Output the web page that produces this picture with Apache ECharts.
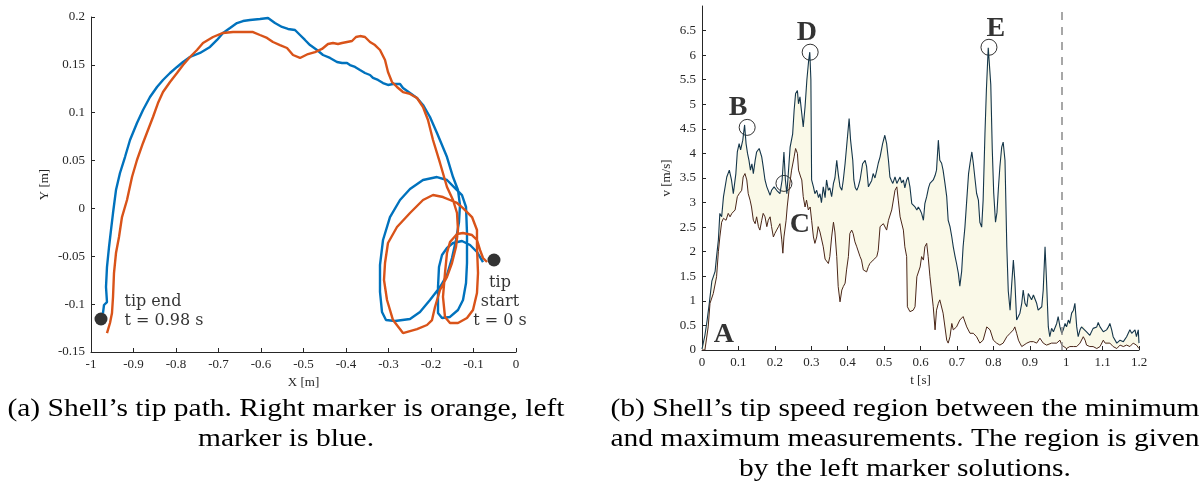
<!DOCTYPE html>
<html>
<head>
<meta charset="utf-8">
<title>Shell tip path and speed</title>
<script src="https://cdn.jsdelivr.net/npm/echarts@6.0.0/dist/echarts.min.js"></script>
<style>
  body { margin: 0; background: #fff; }
  #chart { width: 1200px; height: 484px; }
</style>
</head>
<body>
<div id="chart"></div>
<script>
// (a) tip path, [X m, Y m], from tip start to tip end
const pathBlue = [
  [-0.0776,-0.0560],[-0.0918,-0.0455],[-0.1082,-0.0382],[-0.1271,-0.0340],[-0.1482,-0.0361],
  [-0.1624,-0.0413],[-0.1741,-0.0487],[-0.1812,-0.0612],[-0.1835,-0.0821],[-0.1835,-0.1093],
  [-0.1741,-0.1145],[-0.1553,-0.1134],[-0.1365,-0.1061],[-0.1247,-0.0957],[-0.1176,-0.0779],
  [-0.1153,-0.0570],[-0.1153,-0.0257],[-0.1176,0.0015],[-0.1271,0.0140],[-0.1482,0.0234],
  [-0.1624,0.0297],[-0.1859,0.0328],[-0.2188,0.0297],[-0.2494,0.0203],[-0.2729,0.0088],
  [-0.2965,-0.0090],[-0.3129,-0.0330],[-0.3200,-0.0591],[-0.3200,-0.0873],[-0.3153,-0.1082],
  [-0.3059,-0.1166],[-0.2847,-0.1176],[-0.2494,-0.1155],[-0.2259,-0.1082],[-0.2024,-0.0957],
  [-0.1788,-0.0821],[-0.1624,-0.0696],[-0.1506,-0.0518],[-0.1412,-0.0330],[-0.1341,-0.0142],
  [-0.1318,0.0036],[-0.1365,0.0192],[-0.1482,0.0328],[-0.1624,0.0537],[-0.1859,0.0788],
  [-0.2024,0.0955],[-0.2188,0.1081],[-0.2329,0.1154],[-0.2494,0.1206],[-0.2659,0.1258],
  [-0.2729,0.1300],[-0.2894,0.1300],[-0.3012,0.1290],[-0.3129,0.1310],[-0.3247,0.1342],
  [-0.3365,0.1363],[-0.3435,0.1394],[-0.3553,0.1415],[-0.3671,0.1446],[-0.3788,0.1478],
  [-0.3906,0.1498],[-0.3976,0.1519],[-0.4094,0.1519],[-0.4212,0.1530],[-0.4376,0.1572],
  [-0.4541,0.1603],[-0.4682,0.1655],[-0.4847,0.1707],[-0.4965,0.1760],[-0.5082,0.1812],
  [-0.5200,0.1864],[-0.5365,0.1875],[-0.5506,0.1896],[-0.5671,0.1937],[-0.5835,0.1990],
  [-0.6024,0.1979],[-0.6259,0.1969],[-0.6424,0.1958],[-0.6565,0.1937],[-0.6729,0.1885],
  [-0.6894,0.1833],[-0.7035,0.1760],[-0.7200,0.1687],[-0.7435,0.1624],[-0.7671,0.1582],
  [-0.7835,0.1530],[-0.7976,0.1478],[-0.8141,0.1415],[-0.8306,0.1342],[-0.8447,0.1269],
  [-0.8612,0.1164],[-0.8776,0.1028],[-0.8918,0.0893],[-0.9082,0.0715],[-0.9200,0.0537],
  [-0.9318,0.0370],[-0.9412,0.0192],[-0.9482,-0.0048],[-0.9529,-0.0225],[-0.9576,-0.0403],
  [-0.9624,-0.0612],[-0.9647,-0.0821],[-0.9624,-0.0978],[-0.9694,-0.1009],[-0.9718,-0.1093]
];
const pathOrange = [
  [-0.0682,-0.0560],[-0.0776,-0.0518],[-0.0847,-0.0434],[-0.0918,-0.0330],[-0.1035,-0.0278],
  [-0.1247,-0.0257],[-0.1388,-0.0267],[-0.1553,-0.0351],[-0.1624,-0.0466],[-0.1671,-0.0675],
  [-0.1718,-0.0925],[-0.1671,-0.1134],[-0.1553,-0.1197],[-0.1365,-0.1197],[-0.1153,-0.1145],
  [-0.1012,-0.1061],[-0.0918,-0.0884],[-0.0894,-0.0675],[-0.0918,-0.0403],[-0.0918,-0.0225],
  [-0.1035,-0.0090],[-0.1247,0.0004],[-0.1388,0.0057],[-0.1553,0.0088],[-0.1718,0.0119],
  [-0.1953,0.0140],[-0.2188,0.0088],[-0.2494,-0.0048],[-0.2800,-0.0194],[-0.3012,-0.0361],
  [-0.3082,-0.0570],[-0.3106,-0.0748],[-0.3035,-0.0957],[-0.2894,-0.1166],[-0.2659,-0.1302],
  [-0.2329,-0.1260],[-0.2094,-0.1218],[-0.1976,-0.1166],[-0.1906,-0.1030],[-0.1788,-0.0852],
  [-0.1624,-0.0716],[-0.1506,-0.0570],[-0.1412,-0.0403],[-0.1365,-0.0225],[-0.1388,-0.0048],
  [-0.1482,0.0088],[-0.1624,0.0224],[-0.1788,0.0475],[-0.1953,0.0715],[-0.2071,0.0924],
  [-0.2188,0.1060],[-0.2329,0.1154],[-0.2494,0.1196],[-0.2659,0.1216],[-0.2800,0.1269],
  [-0.2918,0.1321],[-0.3012,0.1425],[-0.3082,0.1551],[-0.3200,0.1655],[-0.3318,0.1707],
  [-0.3435,0.1739],[-0.3553,0.1791],[-0.3671,0.1801],[-0.3765,0.1791],[-0.3859,0.1749],
  [-0.3976,0.1739],[-0.4094,0.1728],[-0.4188,0.1718],[-0.4306,0.1728],[-0.4424,0.1718],
  [-0.4565,0.1666],[-0.4729,0.1634],[-0.4894,0.1613],[-0.5082,0.1572],[-0.5247,0.1603],
  [-0.5388,0.1676],[-0.5553,0.1707],[-0.5718,0.1739],[-0.5859,0.1781],[-0.6024,0.1812],
  [-0.6188,0.1843],[-0.6424,0.1843],[-0.6659,0.1843],[-0.6894,0.1833],[-0.7129,0.1791],
  [-0.7365,0.1728],[-0.7506,0.1655],[-0.7671,0.1582],[-0.7835,0.1498],[-0.7976,0.1415],
  [-0.8141,0.1321],[-0.8306,0.1216],[-0.8424,0.1101],[-0.8541,0.0955],[-0.8659,0.0819],
  [-0.8776,0.0684],[-0.8918,0.0506],[-0.9035,0.0328],[-0.9153,0.0088],[-0.9271,-0.0090],
  [-0.9341,-0.0299],[-0.9412,-0.0466],[-0.9459,-0.0675],[-0.9482,-0.0925],[-0.9506,-0.1093],
  [-0.9553,-0.1197],[-0.9624,-0.1302]
];
const tipStart = [-0.0518, -0.0539];
const tipEnd = [-0.9765, -0.1155];

// (b) tip speed, [t s, v m/s]
const speedMax = [
  [0,0.02],[0.008,0.3],[0.014,0.6],[0.020,0.95],[0.027,1.4],[0.036,1.6],[0.040,1.9],[0.045,2.24],
  [0.049,2.78],[0.054,2.71],[0.059,3.12],[0.068,3.52],[0.075,3.66],[0.081,3.46],[0.086,3.18],
  [0.093,3.59],[0.097,4.03],[0.102,4.20],[0.106,4.07],[0.112,4.27],[0.117,4.58],[0.121,4.2],
  [0.125,4.0],[0.129,3.86],[0.133,3.66],[0.137,3.79],[0.141,3.59],[0.146,3.86],[0.150,4.03],
  [0.157,4.10],[0.164,3.93],[0.168,3.73],[0.173,3.46],[0.178,3.32],[0.187,3.15],[0.191,3.25],
  [0.198,3.32],[0.205,3.25],[0.214,3.18],[0.220,3.46],[0.225,4.03],[0.229,3.46],[0.233,3.18],
  [0.237,3.59],[0.242,4.13],[0.249,4.40],[0.253,4.88],[0.257,5.22],[0.262,5.28],[0.265,5.01],
  [0.269,5.15],[0.274,4.81],[0.278,4.54],[0.283,4.95],[0.288,5.5],[0.293,5.9],[0.296,6.06],
  [0.299,5.5],[0.301,3.46],[0.306,3.32],[0.310,3.18],[0.315,3.25],[0.320,3.1],[0.324,3.18],
  [0.328,3.0],[0.333,3.32],[0.338,3.1],[0.342,3.46],[0.347,3.25],[0.351,3.3],[0.356,3.12],
  [0.361,3.39],[0.365,3.5],[0.370,3.86],[0.374,3.59],[0.379,3.32],[0.384,3.25],[0.388,3.46],
  [0.393,3.8],[0.397,4.13],[0.404,4.71],[0.408,4.27],[0.414,3.86],[0.417,3.46],[0.421,3.3],
  [0.425,3.25],[0.429,3.32],[0.434,3.46],[0.441,3.79],[0.448,3.86],[0.452,3.73],[0.457,3.32],
  [0.461,3.32],[0.466,3.45],[0.470,3.59],[0.475,3.5],[0.480,3.66],[0.484,3.8],[0.489,3.93],
  [0.496,4.20],[0.502,4.37],[0.507,4.20],[0.512,3.86],[0.516,3.52],[0.520,3.45],[0.524,3.39],
  [0.530,3.52],[0.535,3.39],[0.539,3.45],[0.544,3.52],[0.548,3.40],[0.553,3.46],[0.557,3.3],
  [0.562,3.46],[0.566,3.52],[0.571,3.32],[0.576,2.98],[0.580,2.95],[0.585,2.91],[0.590,2.85],
  [0.594,2.91],[0.599,2.85],[0.603,2.78],[0.608,2.64],[0.612,2.98],[0.617,3.12],[0.622,3.3],
  [0.626,3.39],[0.631,3.4],[0.635,3.46],[0.640,3.55],[0.644,3.66],[0.649,4.27],[0.653,3.86],
  [0.658,3.8],[0.662,3.66],[0.667,3.4],[0.672,3.12],[0.676,2.64],[0.681,2.51],[0.686,2.3],
  [0.690,2.10],[0.695,1.9],[0.699,1.76],[0.704,1.56],[0.708,1.3],[0.713,1.6],[0.717,2.1],
  [0.722,2.5],[0.727,3.05],[0.732,3.59],[0.736,3.8],[0.741,4.03],[0.745,3.8],[0.750,3.46],
  [0.754,3.19],[0.759,3.05],[0.763,2.6],[0.768,2.5],[0.772,3.05],[0.777,4.4],[0.781,5.3],
  [0.786,6.15],[0.790,6.15],[0.793,5.4],[0.797,4.1],[0.801,3.2],[0.806,2.6],[0.810,2.8],
  [0.814,3.3],[0.818,3.73],[0.823,4.13],[0.827,4.23],[0.832,3.86],[0.837,2.1],[0.841,1.2],
  [0.846,0.81],[0.850,1.29],[0.855,1.83],[0.859,1.42],[0.864,0.61],[0.869,0.58],[0.873,0.75],
  [0.878,0.95],[0.882,1.22],[0.887,0.95],[0.892,0.88],[0.896,1.15],[0.901,1.08],[0.905,1.02],
  [0.910,1.12],[0.914,1.12],[0.919,0.95],[0.923,0.81],[0.928,0.85],[0.933,0.88],[0.937,1.22],
  [0.942,2.10],[0.946,1.42],[0.951,0.47],[0.955,0.27],[0.960,0.44],[0.965,0.37],[0.974,0.54],
  [0.978,0.68],[0.983,0.47],[0.988,0.34],[0.992,0.41],[0.997,0.54],[1.001,0.47],[1.006,0.61],
  [1.010,0.54],[1.015,0.75],[1.020,0.81],[1.024,0.95],[1.029,0.47],[1.033,0.27],[1.038,0.41],
  [1.042,0.47],[1.047,0.51],[1.056,0.37],[1.065,0.30],[1.074,0.44],[1.084,0.47],[1.088,0.56],
  [1.093,0.47],[1.102,0.37],[1.111,0.41],[1.116,0.47],[1.120,0.54],[1.125,0.41],[1.129,0.27],
  [1.139,0.14],[1.148,0.20],[1.157,0.17],[1.166,0.27],[1.175,0.41],[1.180,0.34],[1.184,0.30],
  [1.189,0.41],[1.193,0.27],[1.198,0.41],[1.200,0.14]
];
const speedMin = [
  [0,0],[0.008,0],[0.017,0.47],[0.022,0.95],[0.031,1.15],[0.040,1.49],[0.045,2.0],[0.049,2.3],
  [0.054,2.6],[0.059,2.68],[0.063,2.71],[0.066,2.64],[0.072,2.78],[0.077,2.71],[0.082,2.78],
  [0.086,2.81],[0.091,2.85],[0.097,3.12],[0.102,3.18],[0.109,3.25],[0.113,3.52],[0.118,3.59],
  [0.123,3.46],[0.127,3.18],[0.132,3.05],[0.136,2.91],[0.141,2.64],[0.146,2.57],[0.150,2.71],
  [0.155,2.51],[0.159,2.44],[0.164,2.64],[0.168,2.78],[0.173,2.71],[0.178,2.51],[0.182,2.64],
  [0.187,2.71],[0.191,2.51],[0.196,2.30],[0.200,2.37],[0.205,2.44],[0.210,2.51],[0.214,2.57],
  [0.219,2.24],[0.222,1.97],[0.225,2.30],[0.231,2.64],[0.234,2.91],[0.240,3.32],[0.246,3.66],
  [0.253,3.93],[0.257,4.10],[0.262,4.00],[0.265,3.66],[0.271,3.52],[0.274,3.46],[0.278,3.12],
  [0.283,2.91],[0.287,3.05],[0.292,2.85],[0.297,2.91],[0.301,2.64],[0.306,2.30],[0.310,2.17],
  [0.315,2.30],[0.319,2.51],[0.324,2.40],[0.333,2.10],[0.338,1.85],[0.347,1.76],[0.351,1.9],
  [0.356,2.3],[0.361,2.6],[0.365,2.4],[0.370,1.9],[0.374,1.29],[0.379,0.98],[0.384,1.22],
  [0.388,1.29],[0.393,1.36],[0.397,1.63],[0.402,1.9],[0.406,2.37],[0.411,2.44],[0.415,2.37],
  [0.420,2.2],[0.425,2.10],[0.429,2.10],[0.434,1.9],[0.438,1.83],[0.443,1.63],[0.452,1.59],
  [0.457,1.7],[0.461,1.76],[0.470,1.83],[0.480,1.90],[0.484,2.03],[0.489,2.51],[0.498,2.57],
  [0.507,2.44],[0.512,2.64],[0.521,2.85],[0.530,3.25],[0.535,3.32],[0.539,3.05],[0.544,2.71],
  [0.553,2.44],[0.557,2.10],[0.562,1.90],[0.564,0.88],[0.571,0.78],[0.580,0.81],[0.585,0.88],
  [0.590,1.49],[0.599,1.69],[0.603,1.90],[0.608,1.83],[0.612,2.10],[0.617,2.17],[0.621,1.90],
  [0.626,1.49],[0.635,0.88],[0.640,0.41],[0.644,0.81],[0.649,0.95],[0.653,1.02],[0.662,0.75],
  [0.672,0.20],[0.676,0.14],[0.681,0.27],[0.686,0.54],[0.690,0.41],[0.699,0.47],[0.708,0.61],
  [0.717,0.68],[0.727,0.47],[0.736,0.34],[0.745,0.34],[0.754,0.27],[0.763,0.14],[0.772,0.20],
  [0.782,0.47],[0.791,0.41],[0.800,0.20],[0.809,0.14],[0.818,0.10],[0.827,0.14],[0.837,0.27],
  [0.846,0.34],[0.855,0.41],[0.859,0.47],[0.864,0.34],[0.869,0.20],[0.873,0.14],[0.878,0.07],
  [0.882,0.10],[0.892,0.14],[0.901,0.17],[0.905,0.14],[0.910,0.17],[0.919,0.14],[0.928,0.24],
  [0.933,0.27],[0.937,0.14],[0.946,0.10],[0.951,0.07],[0.960,0.14],[0.965,0.17],[0.974,0.14],
  [0.983,0.20],[0.988,0.10],[0.992,0.07],[1.001,0.03],[1.010,0.07],[1.020,0.07],[1.029,0.07],
  [1.038,0.14],[1.047,0.27],[1.052,0.20],[1.056,0.10],[1.065,0.07],[1.074,0.07],[1.084,0.03],
  [1.093,0.07],[1.102,0.20],[1.107,0.14],[1.111,0.10],[1.120,0.14],[1.129,0.07],[1.139,0.03],
  [1.148,0.10],[1.157,0.07],[1.166,0.10],[1.175,0.07],[1.184,0.14],[1.193,0.10],[1.200,0.03]
];
const circled = [[0.124,4.53],[0.225,3.39],[0.297,6.06],[0.788,6.16]];
const letters = ['A', 'B', 'C', 'D', 'E'];
const letterAt = [[0.060,0.30],[0.099,4.92],[0.269,2.54],[0.288,6.46],[0.807,6.54]];
const tMarker = 0.988;
const yTicksB = [0, 0.5, 1, 1.5, 2, 2.5, 3, 3.5, 4, 4.5, 5, 5.5, 6, 6.5];

const SERIF = "'Liberation Serif', 'DejaVu Serif', serif";
const INK = '#262626';

function baseAxis(extra) {
  return Object.assign({
    axisLine: { onZero: false, lineStyle: { color: INK, width: 1 } },
    axisTick: { inside: true, length: 4, lineStyle: { color: INK } },
    axisLabel: { color: INK, fontFamily: SERIF, fontSize: 13, margin: 6,
                 formatter: v => String(+(+v).toFixed(2)) },
    splitLine: { show: false },
    nameLocation: 'middle',
    nameTextStyle: { color: INK, fontFamily: SERIF, fontSize: 13 }
  }, extra);
}

const chart = echarts.init(document.getElementById('chart'));

chart.setOption({
  animation: false,
  backgroundColor: '#fff',
  grid: [
    { left: 91, top: 17, width: 425, height: 335 },
    { left: 702, top: 6, width: 437, height: 344 }
  ],
  xAxis: [
    baseAxis({ gridIndex: 0, type: 'value', min: -1, max: 0, interval: 0.1,
               name: 'X [m]', nameGap: 22 }),
    baseAxis({ gridIndex: 1, type: 'value', min: 0, max: 1.2, interval: 0.1,
               name: 't [s]', nameGap: 24 })
  ],
  yAxis: [
    baseAxis({ gridIndex: 0, type: 'value', min: -0.15, max: 0.2, interval: 0.05,
               name: 'Y [m]', nameGap: 40 }),
    baseAxis({ gridIndex: 1, type: 'value', min: 0, max: 7, interval: 0.5,
               name: 'v [m/s]', nameGap: 29,
               axisTick: { inside: true, length: 4, lineStyle: { color: INK }, customValues: yTicksB },
               axisLabel: { color: INK, fontFamily: SERIF, fontSize: 13, margin: 6,
                            customValues: yTicksB, formatter: v => String(+(+v).toFixed(2)) } })
  ],
  series: [
    { type: 'line', xAxisIndex: 0, yAxisIndex: 0, data: pathBlue, showSymbol: false,
      lineStyle: { color: '#0072BD', width: 2.4 }, silent: true },
    { type: 'line', xAxisIndex: 0, yAxisIndex: 0, data: pathOrange, showSymbol: false,
      lineStyle: { color: '#D95319', width: 2.4 }, silent: true },
    { type: 'scatter', xAxisIndex: 0, yAxisIndex: 0, symbolSize: 13,
      itemStyle: { color: '#000' }, silent: true,
      data: [
        { value: tipEnd, label: { show: true, position: 'right', distance: 17, offset: [0, -8],
          formatter: 'tip end\nt = 0.98 s', align: 'left' } },
        { value: tipStart, label: { show: true, position: 'bottom', distance: 7, offset: [6, 0],
          formatter: 'tip\nstart\nt = 0 s', align: 'center' } }
      ],
      label: { color: '#000', fontFamily: "'DejaVu Serif', serif", fontSize: 16, lineHeight: 19 } },
    { type: 'custom', xAxisIndex: 1, yAxisIndex: 1, data: [[0, 0]], silent: true, z: 1,
      renderItem: function (params, api) {
        const pts = speedMax.map(p => api.coord(p))
          .concat(speedMin.slice().reverse().map(p => api.coord(p)));
        return { type: 'polygon', shape: { points: pts },
                 style: { fill: '#FAF9E8', stroke: null } };
      } },
    { type: 'line', xAxisIndex: 1, yAxisIndex: 1, data: speedMax, showSymbol: false,
      lineStyle: { color: '#15364A', width: 1.1 }, silent: true,
      markLine: { silent: true, symbol: 'none', label: { show: false },
        lineStyle: { color: '#8a8a8a', width: 1.5, type: [8, 7] },
        data: [[{ coord: [tMarker, 0] }, { coord: [tMarker, 6.9] }]] } },
    { type: 'line', xAxisIndex: 1, yAxisIndex: 1, data: speedMin, showSymbol: false,
      lineStyle: { color: '#4A2618', width: 1 }, silent: true },
    { type: 'scatter', xAxisIndex: 1, yAxisIndex: 1, data: circled, symbolSize: 16,
      itemStyle: { color: 'rgba(0,0,0,0)', borderColor: '#000', borderWidth: 1 }, silent: true },
    { type: 'scatter', xAxisIndex: 1, yAxisIndex: 1, symbolSize: 0, silent: true,
      data: letters.map((l, i) => ({ name: l, value: letterAt[i] })),
      label: { show: true, position: 'inside', formatter: '{b}', color: '#000',
               fontFamily: SERIF, fontSize: 28, fontWeight: 'bold' } }
  ],
  graphic: [
    { type: 'text', x: 286, y: 394, scaleX: 1.18, silent: true,
      style: { text: '(a) Shell\u2019s tip path. Right marker is orange, left\nmarker is blue.',
               align: 'center', fill: '#000', font: '25px ' + SERIF, lineHeight: 30 } },
    { type: 'text', x: 905, y: 394, scaleX: 1.18, silent: true,
      style: { text: '(b) Shell\u2019s tip speed region between the minimum\nand maximum measurements. The region is given\nby the left marker solutions.',
               align: 'center', fill: '#000', font: '25px ' + SERIF, lineHeight: 30 } }
  ]
});
</script>
</body>
</html>
